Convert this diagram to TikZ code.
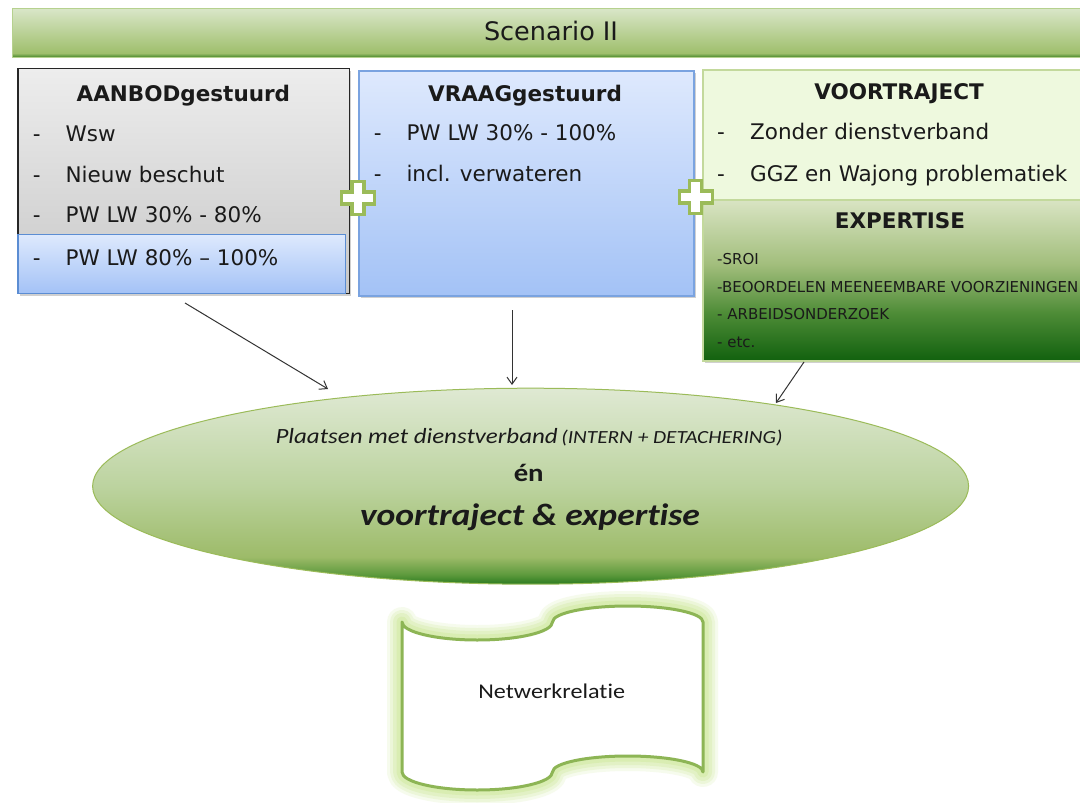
\documentclass[tikz,border=0pt]{standalone}
\usepackage{fontspec}
\setmainfont{DejaVu Sans}
\newfontfamily\calib[FakeStretch=1.15,Ligatures={NoCommon}]{Carlito}
\usetikzlibrary{shapes.geometric,arrows.meta,shadows}
\definecolor{barlight}{HTML}{D9E6C8}
\definecolor{barmid}{HTML}{9FBF6C}
\definecolor{bardark}{HTML}{4A8A2C}
\definecolor{barborder}{HTML}{B6D18E}
\definecolor{graytop}{HTML}{EDEDED}
\definecolor{graybot}{HTML}{C8C8C8}
\definecolor{bluetop}{HTML}{DEE9FD}
\definecolor{bluebot}{HTML}{A3C2F6}
\definecolor{blueborder}{HTML}{5B8DD3}
\definecolor{blueborderlt}{HTML}{7AA3E0}
\definecolor{voorfill}{HTML}{EEF9DE}
\definecolor{voorborder}{HTML}{C3D99C}
\definecolor{expA}{HTML}{D9E4C3}
\definecolor{expB}{HTML}{A2BE7C}
\definecolor{expC}{HTML}{4E8C37}
\definecolor{expD}{HTML}{11610E}
\definecolor{ellA}{HTML}{DFE9D3}
\definecolor{ellB}{HTML}{BCD39F}
\definecolor{ellC}{HTML}{9DBB69}
\definecolor{ellD}{HTML}{5E9A3D}
\definecolor{ellE}{HTML}{2B7B20}
\definecolor{plusgreen}{HTML}{9BBB59}
\definecolor{tapegreen}{HTML}{8DB555}
\definecolor{glowgreen}{HTML}{D2EAA0}
\definecolor{txt}{HTML}{1A1A1A}
\definecolor{arrowcol}{HTML}{333333}
\pgfdeclareverticalshading{barshade}{100bp}{color(0bp)=(bardark); color(25bp)=(bardark); color(29bp)=(barmid); color(75bp)=(barlight); color(100bp)=(barlight)}
\pgfdeclareverticalshading{grayshade}{100bp}{color(0bp)=(graybot); color(25bp)=(graybot); color(75bp)=(graytop); color(100bp)=(graytop)}
\pgfdeclareverticalshading{blueshade}{100bp}{color(0bp)=(bluebot); color(25bp)=(bluebot); color(75bp)=(bluetop); color(100bp)=(bluetop)}
\pgfdeclareverticalshading{expshade}{100bp}{color(0bp)=(expD); color(25bp)=(expD); color(40bp)=(expC); color(55bp)=(expB); color(75bp)=(expA); color(100bp)=(expA)}
\pgfdeclareverticalshading{ellshade}{100bp}{color(0bp)=(ellE); color(25bp)=(ellE); color(27.5bp)=(ellD); color(32bp)=(ellC); color(50bp)=(ellB); color(75bp)=(ellA); color(100bp)=(ellA)}
\begin{document}
\begin{tikzpicture}[x=1pt,y=-1pt,
  box/.style={rectangle, inner sep=0pt, outer sep=0pt, anchor=north west},
  softshadow/.style={drop shadow={shadow xshift=1.5pt, shadow yshift=-2pt, opacity=0.3, fill=black!60}},
  vtitle/.style={font=\fontsize{21.5}{26}\selectfont\bfseries, text=txt, inner sep=0pt, anchor=base},
  vitem/.style={font=\fontsize{21.5}{26}\selectfont, text=txt, inner sep=0pt, anchor=base west},
  expitem/.style={font=\fontsize{15}{18}\selectfont, text=txt, inner sep=0pt, anchor=base west},
  plussign/.style={draw=plusgreen, line width=3.2pt, fill=white, line join=miter},
  conn/.style={draw=arrowcol, line width=1pt, -{Straight Barb[length=7pt,width=10pt]}},
  glowA/.style={draw=glowgreen, line width=30pt, opacity=0.18, line join=round},
  glowB/.style={draw=glowgreen, line width=24pt, opacity=0.25, line join=round},
  glowC/.style={draw=glowgreen, line width=18pt, opacity=0.35, line join=round},
  glowD/.style={draw=glowgreen, line width=11pt, opacity=0.5, line join=round},
  tapemain/.style={draw=tapegreen, line width=3pt, fill=white, line join=round}
]
\useasboundingbox (0,0) rectangle (1080,803);
\fill[white] (0,0) rectangle (1080,803);
\clip (0,0) rectangle (1080,803);

% title bar
\node[box, shading=barshade, draw=barborder, line width=1pt, minimum width=1080pt, minimum height=48.5pt] (bar) at (12.5,8.5) {};
\node[font=\fontsize{25.5}{30}\selectfont, text=txt, inner sep=0pt, anchor=base] (bartxt) at (551,40.7) {Scenario II};

% AANBOD box
\node[box, softshadow, shading=grayshade, draw=black!85, line width=1.2pt, minimum width=331.5pt, minimum height=225pt] (aanbod) at (18,68.5) {};
\node[box, shading=blueshade, draw=blueborder, line width=1.2pt, minimum width=327.5pt, minimum height=59pt] (aanbodsub) at (18,234.5) {};
\node[vtitle] (aanbodtitle) at (183.4,101.7) {AANBODgestuurd};
\node[vitem] (a1) at (32.7,141.7) {\makebox[32.7pt][l]{-}Wsw};
\node[vitem] (a2) at (32.7,182.7) {\makebox[32.7pt][l]{-}Nieuw beschut};
\node[vitem] (a3) at (32.7,222.7) {\makebox[32.7pt][l]{-}PW LW 30\% - 80\%};
\node[vitem] (a4) at (32.7,265.7) {\makebox[32.7pt][l]{-}PW LW 80\% – 100\%};

% VRAAG box
\node[box, softshadow, shading=blueshade, draw=blueborderlt, line width=1.2pt, minimum width=335pt, minimum height=225pt] (vraag) at (359,71) {};
\node[vtitle] (vraagtitle) at (525,101) {VRAAGgestuurd};
\node[vitem] (v1) at (373.6,140.7) {\makebox[32.7pt][l]{-}PW LW 30\% - 100\%};
\node[vitem] (v2) at (373.6,181.7) {\makebox[32.7pt][l]{-}incl. verwateren};

% VOORTRAJECT box
\node[box, fill=voorfill, draw=voorborder, line width=1.2pt, minimum width=390pt, minimum height=130pt] (voor) at (703,70) {};
\node[vtitle] (voortitle) at (899,99.3) {VOORTRAJECT};
\node[vitem] (vt1) at (717,139.3) {\makebox[33pt][l]{-}Zonder dienstverband};
\node[vitem] (vt2) at (717,181) {\makebox[33pt][l]{-}GGZ en Wajong problematiek};

% EXPERTISE box
\node[box, softshadow, shading=expshade, draw=voorborder, line width=1.2pt, minimum width=390pt, minimum height=161pt] (exp) at (703,200) {};
\node[vtitle] (exptitle) at (900,228.3) {EXPERTISE};
\node[expitem] (e1) at (717,264.3) {-SROI};
\node[expitem] (e2) at (717,292) {-BEOORDELEN MEENEEMBARE VOORZIENINGEN};
\node[expitem] (e3) at (717,319.3) {- ARBEIDSONDERZOEK};
\node[expitem] (e4) at (717,347.7) {- etc.};

% plus signs
\draw[plussign] (358,198) ++(-6,-16.5) -- ++(12,0) -- ++(0,10.5) -- ++(10.5,0) -- ++(0,12) -- ++(-10.5,0) -- ++(0,10.5) -- ++(-12,0) -- ++(0,-10.5) -- ++(-10.5,0) -- ++(0,-12) -- ++(10.5,0) -- cycle;
\draw[plussign] (695.6,197) ++(-6,-16.5) -- ++(12,0) -- ++(0,10.5) -- ++(10.5,0) -- ++(0,12) -- ++(-10.5,0) -- ++(0,10.5) -- ++(-12,0) -- ++(0,-10.5) -- ++(-10.5,0) -- ++(0,-12) -- ++(10.5,0) -- cycle;

% ellipse
\node[ellipse, shading=ellshade, draw=plusgreen, line width=1pt, minimum width=876pt, minimum height=196pt, inner sep=0pt] (ell) at (530.6,486.2) {};
\node[font=\calib\fontsize{21.7}{26}\selectfont\itshape, text=txt, inner sep=0pt, anchor=base] (ell1) at (529,443.3) {Plaatsen met dienstverband\,{\fontsize{18.5}{22}\selectfont(INTERN + DETACHERING)}};
\node[font=\calib\fontsize{25}{30}\selectfont\bfseries, text=txt, inner sep=0pt, anchor=base] (ell2) at (528.7,481.7) {én};
\node[font=\calib\fontsize{31}{37}\selectfont\bfseries\itshape, text=txt, inner sep=0pt, anchor=base] (ell3) at (530,525) {voortraject \& expertise};

% arrows
\coordinate (s1) at (185,303);
\coordinate (t1) at (328,389);
\coordinate (s2) at (512,310);
\coordinate (t2) at (512,385);
\coordinate (s3) at (804,362);
\coordinate (t3) at (776,403);
\draw[conn] (s1) -- (t1);
\draw[conn] (s2) -- (t2);
\draw[conn] (s3) -- (t3);

% punched tape shape with glow
\foreach \st in {glowA,glowB,glowC,glowD,tapemain}{
  \draw[\st] (402,622) arc[start angle=180, end angle=360, x radius=75.25pt, y radius=18pt]
    arc[start angle=180, end angle=0, x radius=75.25pt, y radius=16pt]
    -- (703,772)
    arc[start angle=0, end angle=180, x radius=75.25pt, y radius=16pt]
    arc[start angle=0, end angle=-180, x radius=75.25pt, y radius=18pt]
    -- cycle;
}
\node[font=\calib\fontsize{21}{25}\selectfont, text=txt, inner sep=0pt, anchor=base] (netz) at (551.7,698) {Netwerkrelatie};
\end{tikzpicture}
\end{document}
